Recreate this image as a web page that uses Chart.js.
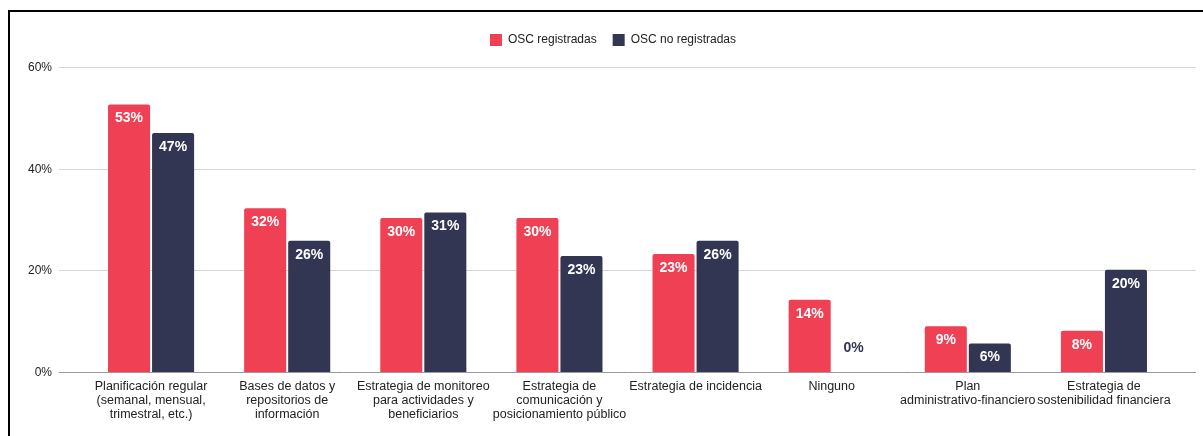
<!DOCTYPE html>
<html>
<head>
<meta charset="utf-8">
<script src="https://cdn.jsdelivr.net/npm/chart.js@4"></script>
<style>
  body { margin: 0; background: #fff; }
  #wrap { position: relative; width: 1203px; height: 436px; }
  #frame {
    position: absolute; left: 8px; top: 10px; right: 0; bottom: 0;
    border-top: 2px solid #000; border-left: 2px solid #000;
    pointer-events: none;
  }
</style>
</head>
<body>
<div id="wrap">
  <canvas id="chart" width="1203" height="436"></canvas>
  <div id="frame"></div>
</div>
<script>
  // Categories (x labels, already split in lines as in the picture)
  const categories = [
    ["Planificación regular", "(semanal, mensual,", "trimestral, etc.)"],
    ["Bases de datos y", "repositorios de", "información"],
    ["Estrategia de monitoreo", "para actividades y", "beneficiarios"],
    ["Estrategia de", "comunicación y", "posicionamiento público"],
    ["Estrategia de incidencia"],
    ["Ninguno"],
    ["Plan", "administrativo-financiero"],
    ["Estrategia de", "sostenibilidad financiera"]
  ];

  const seriesNames = ["OSC registradas", "OSC no registradas"];
  const registradas = [52.6, 32.2, 30.3, 30.3, 23.2, 14.2, 9.0, 8.1];
  const noRegistradas = [47.0, 25.8, 31.4, 22.8, 25.8, 0, 5.6, 20.1];

  const yTicks = [0, 20, 40, 60];

  const RED = "#f04054";
  const NAVY = "#333653";
  const FONT = "'Liberation Sans', Arial, sans-serif";

  // gridlines run wider than the category band
  const GRID_LEFT = 59;
  const GRID_RIGHT = 1196;

  const wideGrid = {
    id: "wideGrid",
    afterInit(chart) {
      // leave room between legend and plot
      const lg = chart.legend;
      const fit = lg.fit;
      lg.fit = function () {
        fit.call(this);
        this.height = 49;
      };
    },
    beforeDatasetsDraw(chart) {
      const ctx = chart.ctx;
      const y = chart.scales.y;
      ctx.save();
      ctx.lineWidth = 1;
      ctx.font = "12px " + FONT;
      ctx.textAlign = "right";
      ctx.textBaseline = "middle";
      yTicks.forEach(function (v) {
        const py = Math.round(y.getPixelForValue(v)) + 0.5;
        ctx.strokeStyle = v === 0 ? "#999" : "#d6d6d6";
        ctx.beginPath();
        ctx.moveTo(GRID_LEFT, py);
        ctx.lineTo(GRID_RIGHT, py);
        ctx.stroke();
        ctx.fillStyle = "#222";
        ctx.fillText(v + "%", GRID_LEFT - 7, py);
      });
      ctx.restore();
    }
  };

  // value labels drawn on top of each bar
  const barLabels = {
    id: "barLabels",
    afterDatasetsDraw(chart) {
      const ctx = chart.ctx;
      ctx.save();
      ctx.font = "bold 14px " + FONT;
      ctx.textAlign = "center";
      ctx.textBaseline = "middle";
      chart.data.datasets.forEach(function (ds, i) {
        const meta = chart.getDatasetMeta(i);
        meta.data.forEach(function (bar, j) {
          const v = ds.data[j];
          const txt = Math.round(v) + "%";
          if (bar.base - bar.y > 24) {
            ctx.fillStyle = "#fff";
            ctx.fillText(txt, bar.x, bar.y + 14);
          } else {
            ctx.fillStyle = ds.backgroundColor;
            ctx.fillText(txt, bar.x, bar.y - 24);
          }
        });
      });
      ctx.restore();
    }
  };

  const barOpts = {
    borderRadius: { topLeft: 2, topRight: 2 },
    borderSkipped: "start",
    categoryPercentage: 0.647,
    barPercentage: 0.955
  };

  new Chart(document.getElementById("chart"), {
    type: "bar",
    data: {
      labels: categories,
      datasets: [
        Object.assign({ label: seriesNames[0], data: registradas, backgroundColor: RED }, barOpts),
        Object.assign({ label: seriesNames[1], data: noRegistradas, backgroundColor: NAVY }, barOpts)
      ]
    },
    options: {
      responsive: false,
      animation: false,
      layout: { padding: { top: 18, right: 31, left: 54, bottom: 0 } },
      plugins: {
        legend: {
          position: "top",
          labels: {
            boxWidth: 12,
            boxHeight: 12,
            padding: 16,
            color: "#222",
            font: { family: FONT, size: 12 }
          }
        },
        tooltip: { enabled: false }
      },
      scales: {
        x: {
          grid: { display: false },
          border: { display: false },
          ticks: {
            color: "#222",
            maxRotation: 0,
            autoSkip: false,
            padding: 0,
            font: { family: FONT, size: 12.5, lineHeight: 1.1 }
          },
          afterFit: function (scale) { scale.height = 64; }
        },
        y: {
          min: 0,
          max: 60,
          afterBuildTicks: function (scale) {
            scale.ticks = yTicks.map(function (v) { return { value: v }; });
          },
          grid: { display: false },
          border: { display: false },
          ticks: { display: false },
          afterFit: function (scale) { scale.width = 29; }
        }
      }
    },
    plugins: [wideGrid, barLabels]
  });
</script>
</body>
</html>
